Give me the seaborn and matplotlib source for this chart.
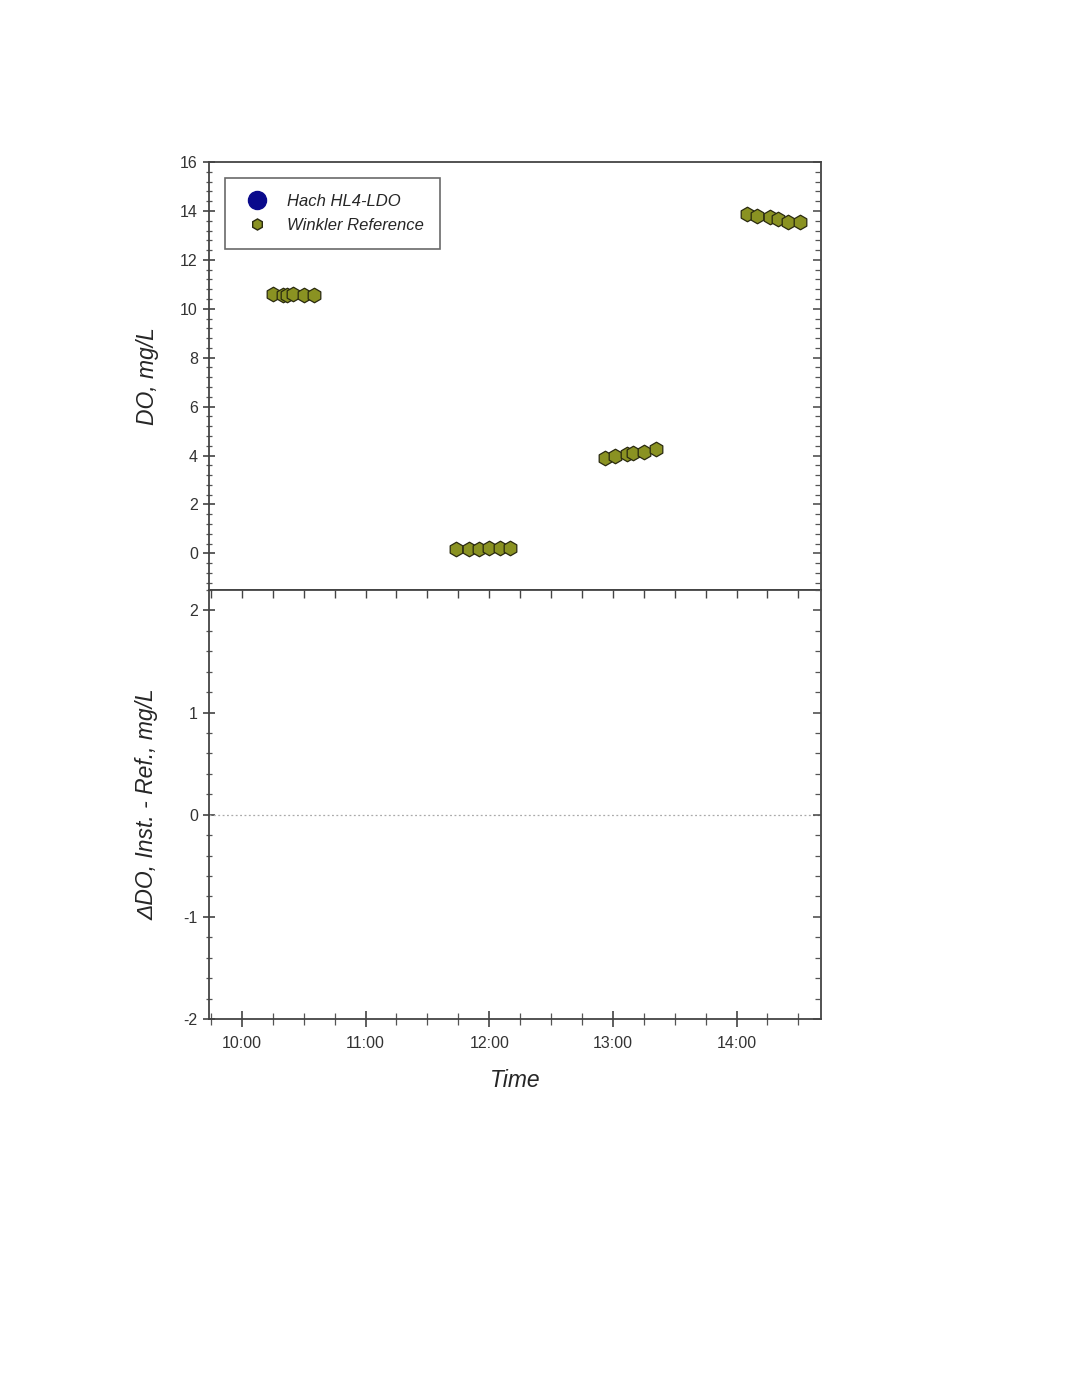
import pandas as pd
import numpy as np
import matplotlib
matplotlib.use("Agg")
import matplotlib.pyplot as plt
import matplotlib.dates as mdates
from matplotlib.ticker import MultipleLocator
import seaborn as sns

# ------------------------------------------
# dados
# ------------------------------------------
dia = "2000-01-01 "

# Winkler (referencia)
winkler_hora = ["10:15", "10:20", "10:22", "10:25", "10:30", "10:35",
                "11:44", "11:50", "11:55", "12:00", "12:05", "12:10",
                "12:56", "13:01", "13:07", "13:10", "13:15", "13:21",
                "14:05", "14:10", "14:16", "14:20", "14:25", "14:31"]
winkler_do = [10.6, 10.57, 10.58, 10.6, 10.58, 10.56,
              0.18, 0.19, 0.19, 0.20, 0.21, 0.22,
              3.89, 3.97, 4.05, 4.09, 4.13, 4.26,
              13.87, 13.79, 13.75, 13.67, 13.56, 13.54]

# Hach HL4-LDO (sem pontos visiveis no grafico)
hach_hora = []
hach_do = []
delta_hora = []
delta_do = []

df_w = pd.DataFrame({"hora": pd.to_datetime([dia + h for h in winkler_hora]),
                     "do": winkler_do, "serie": "Winkler Reference"})
df_h = pd.DataFrame({"hora": pd.to_datetime([dia + h for h in hach_hora]),
                     "do": pd.Series(hach_do, dtype=float)})

sns.set_style("ticks")
plt.rcParams["font.family"] = ["Liberation Sans", "DejaVu Sans"]
plt.rcParams["axes.unicode_minus"] = False

fig = plt.figure(figsize=(10.71, 13.86), dpi=100)
ax1 = fig.add_axes([0.1951, 0.5743, 0.5715, 0.3088])
ax2 = fig.add_axes([0.1951, 0.2648, 0.5715, 0.3095], sharex=ax1)

cor_w = "#8a9222"
cor_h = "#0a0a8c"

# painel de cima
ax1.scatter(df_h["hora"], df_h["do"], s=260, color=cor_h, edgecolor="none",
            label="Hach HL4-LDO")
sns.scatterplot(data=df_w, x="hora", y="do", ax=ax1, marker="h", s=110,
                color=cor_w, edgecolor="#2a2a10", linewidth=0.9,
                legend=False, zorder=3)

# painel de baixo (diferenca)
ax2.axhline(0, color="#aaaaaa", linestyle=(0, (1.5, 2)), linewidth=0.9)
ax2.scatter(pd.to_datetime([dia + h for h in delta_hora]),
            pd.Series(delta_do, dtype=float), s=110, marker="h", color=cor_w)

x0 = pd.Timestamp(dia + "09:44")
x1 = pd.Timestamp(dia + "14:41")
ax1.set_xlim(x0, x1)
ax1.set_ylim(-1.5, 16)
ax2.set_ylim(-2, 2.2)

for ax in (ax1, ax2):
    for s in ax.spines.values():
        s.set_visible(True)
        s.set_color("#444444")
        s.set_linewidth(1.3)
    ax.set_xlabel("")

ax1.yaxis.set_major_locator(MultipleLocator(2))
ax1.yaxis.set_minor_locator(MultipleLocator(0.4))
ax2.yaxis.set_major_locator(MultipleLocator(1))
ax2.yaxis.set_minor_locator(MultipleLocator(0.2))
ax2.xaxis.set_major_locator(mdates.HourLocator())
ax2.xaxis.set_minor_locator(mdates.MinuteLocator(byminute=[15, 30, 45]))
ax2.xaxis.set_major_formatter(mdates.DateFormatter("%H:%M"))

for ax in (ax1, ax2):
    ax.tick_params(axis="y", which="major", direction="inout", length=8, width=1.1,
                   left=True, right=False, labelsize=11.5, colors="#333333", pad=4)
    ax.tick_params(axis="y", which="minor", direction="inout", length=5, width=0.9,
                   left=True, right=False, colors="#555555")
    # ticks do lado direito, para dentro
    tw = ax.twinx()
    tw.set_ylim(ax.get_ylim())
    tw.yaxis.set_major_locator(ax.yaxis.get_major_locator())
    tw.yaxis.set_minor_locator(ax.yaxis.get_minor_locator())
    tw.tick_params(axis="y", which="major", direction="in", length=6, width=1.1,
                   labelright=False, colors="#444444")
    tw.tick_params(axis="y", which="minor", direction="in", length=4, width=0.9,
                   labelright=False, colors="#555555")
    for s in tw.spines.values():
        s.set_visible(False)

ax1.tick_params(axis="x", which="both", bottom=False, top=False, labelbottom=False)
ax2.tick_params(axis="x", which="major", direction="inout", length=11, width=1.1,
                bottom=True, top=False, labelsize=11.5, colors="#333333", pad=7)
ax2.tick_params(axis="x", which="minor", direction="inout", length=8, width=0.9,
                bottom=True, top=False, colors="#555555")

# ticks no topo do painel de baixo, para dentro
ty = ax2.twiny()
ty.set_xlim(ax2.get_xlim())
ty.xaxis.set_major_locator(mdates.MinuteLocator(byminute=[0, 15, 30, 45]))
ty.tick_params(axis="x", which="major", direction="in", length=6, width=1.0,
               labeltop=False, colors="#444444")
for s in ty.spines.values():
    s.set_visible(False)

ax1.set_ylabel("DO, mg/L", fontsize=16.5, style="italic")
ax2.set_ylabel("\u0394DO, Inst. - Ref., mg/L", fontsize=16.5, style="italic")
ax2.set_xlabel("Time", fontsize=16.5, style="italic", labelpad=13)
ax1.yaxis.set_label_coords(-0.082, 0.5)
ax2.yaxis.set_label_coords(-0.082, 0.5)

# legenda
h_hach = plt.Line2D([], [], linestyle="none", marker="o", markersize=13,
                    markerfacecolor=cor_h, markeredgecolor=cor_h)
h_wink = plt.Line2D([], [], linestyle="none", marker="h", markersize=8,
                    markerfacecolor=cor_w, markeredgecolor="#2a2a10")
leg = ax1.legend([h_hach, h_wink], ["Hach HL4-LDO", "Winkler Reference"],
                 loc="upper left", bbox_to_anchor=(0.026, 0.963), borderaxespad=0,
                 frameon=True, fancybox=False, prop={"size": 12, "style": "italic"},
                 handletextpad=0.8, labelspacing=0.55, borderpad=0.95,
                 handlelength=2.0)
leg.get_frame().set_edgecolor("#444444")
leg.get_frame().set_linewidth(1.2)

plt.savefig("out.png", dpi=100)
